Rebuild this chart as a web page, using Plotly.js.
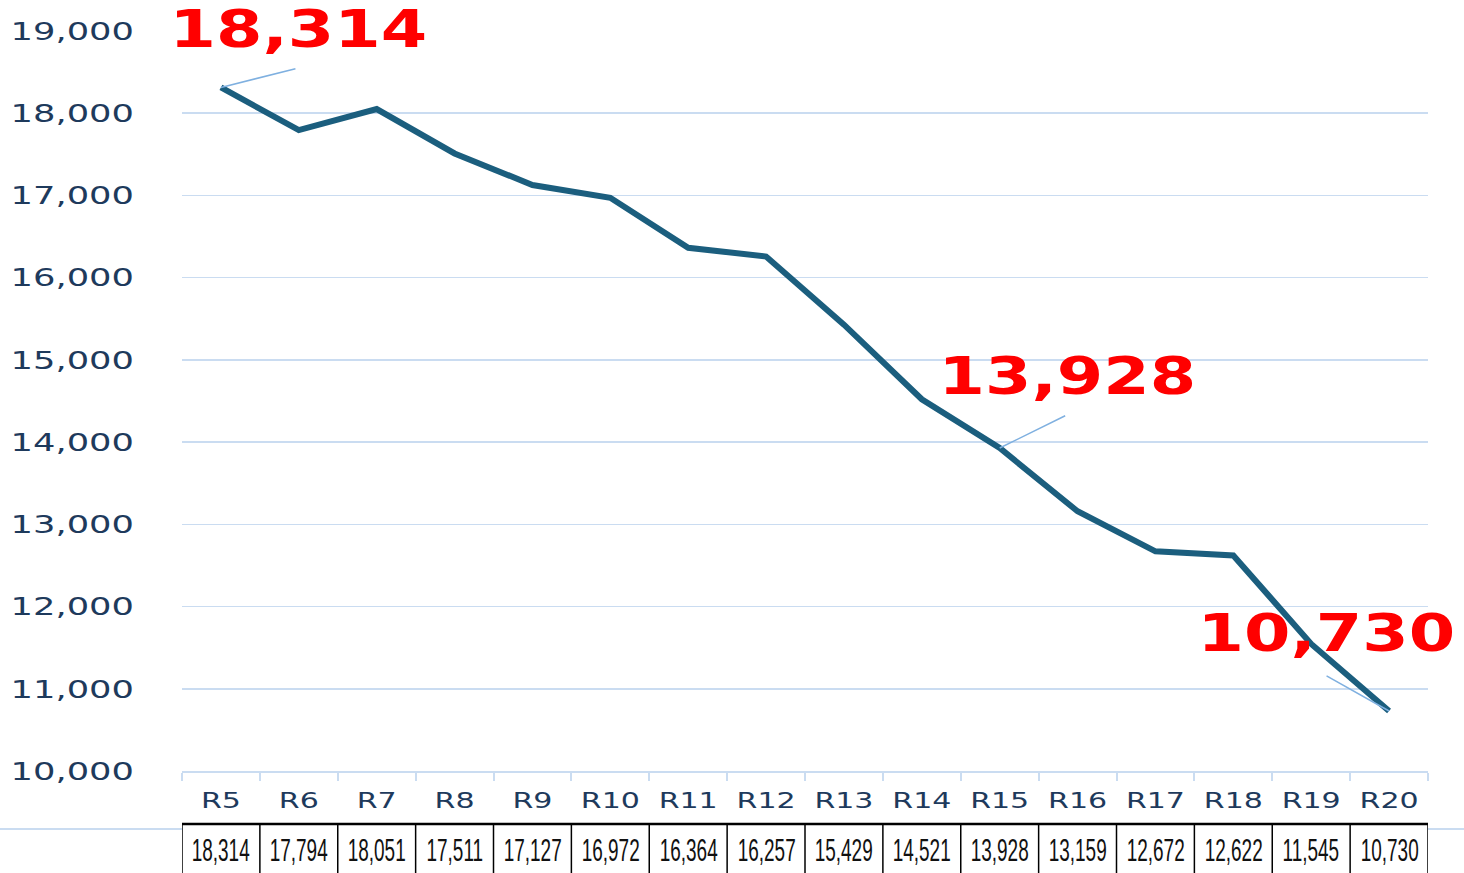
<!DOCTYPE html>
<html>
<head>
<meta charset="utf-8">
<script src="https://cdn.plot.ly/plotly-3.0.1.min.js"></script>
<style>
html,body{margin:0;padding:0;background:#fff;}
#chart{width:1464px;height:873px;}
</style>
</head>
<body>
<div id="chart"></div>
<script>
const categories = ["R5","R6","R7","R8","R9","R10","R11","R12","R13","R14","R15","R16","R17","R18","R19","R20"];
const values = [18314,17794,18051,17511,17127,16972,16364,16257,15429,14521,13928,13159,12672,12622,11545,10730];
const highlightIdx = [0,10,15];
const yTicks = [10000,11000,12000,13000,14000,15000,16000,17000,18000,19000];

const fmt = v => v.toLocaleString('en-US');

const lineColor = '#1b5e7e';
const gridColor = '#cadcf1';
const labelColor = '#1e3a5c';
const leaderColor = '#7fb0e0';

// label placements (pixel offsets from the point)
const labelShift = [[78,58],[68,72],[-63,77]];
const leaderOff = [[76,-19],[67,-33],[-64,-36]];

const annotations = [];
highlightIdx.forEach((idx,k)=>{
  annotations.push({
    x: categories[idx], y: values[idx], xref:'x', yref:'y',
    text: fmt(values[idx]), showarrow:false,
    xshift: labelShift[k][0], yshift: labelShift[k][1],
    font:{family:'DejaVu Sans', size:51, color:'#ff0000', weight:'bold'}
  });
});
highlightIdx.forEach((idx,k)=>{
  annotations.push({
    x: categories[idx], y: values[idx], xref:'x', yref:'y',
    text:' ', showarrow:true, arrowhead:0, arrowwidth:1.5, arrowcolor:leaderColor,
    ax: leaderOff[k][0], ay: leaderOff[k][1], standoff:0,
    font:{size:1}
  });
});
categories.forEach((c,i)=>{
  annotations.push({
    x: c, y: -(849-771)/740, xref:'x', yref:'paper', yanchor:'middle', xanchor:'center',
    text: fmt(values[i]), showarrow:false,
    font:{family:'Liberation Sans', size:24, color:'#111'}
  });
});

const shapes = [];
const yTop = -(824-771)/740, yBot = -(873-771)/740 - 0.02;
for(let i=0;i<=categories.length;i++){
  shapes.push({type:'line', xref:'x', yref:'paper', x0:i-0.5, x1:i-0.5, y0:yTop, y1:yBot,
    line:{color:'#000', width:1.5}});
}
shapes.push({type:'line', xref:'x', yref:'paper', x0:-0.5, x1:categories.length-0.5, y0:yTop, y1:yTop,
  line:{color:'#000', width:2.5}});
const yBlue = -(829-771)/740;
shapes.push({type:'line', xref:'paper', yref:'paper', x0:-182/1246, x1:0, y0:yBlue, y1:yBlue,
  line:{color:gridColor, width:2}});
shapes.push({type:'line', xref:'paper', yref:'paper', x0:1, x1:(1464-182)/1246, y0:yBlue, y1:yBlue,
  line:{color:gridColor, width:2}});

const trace = {
  x: categories, y: values, type:'scatter', mode:'lines',
  line:{color:lineColor, width:6}, hoverinfo:'skip'
};

const layout = {
  width:1464, height:873,
  margin:{l:182, r:36, t:31, b:102},
  paper_bgcolor:'#fff', plot_bgcolor:'#fff',
  showlegend:false,
  xaxis:{
    type:'category', categoryarray:categories, categoryorder:'array',
    showgrid:false, zeroline:false,
    showline:true, linecolor:gridColor, linewidth:2,
    ticks:'outside', tickson:'boundaries', ticklen:8, tickcolor:gridColor, tickwidth:2,
    tickfont:{family:'DejaVu Sans', size:21, color:labelColor},
    ticklabelstandoff:10,
    range:[-0.5, categories.length-0.5]
  },
  yaxis:{
    range:[10000,19000], tickvals:yTicks, ticktext:yTicks.map(fmt),
    showgrid:true, gridcolor:gridColor, gridwidth:1.5, zeroline:false,
    showline:false, ticks:'',
    tickfont:{family:'DejaVu Sans', size:25, color:labelColor},
    ticklabelstandoff:47
  },
  annotations: annotations,
  shapes: shapes
};

function stretch(el, f){
  const w = el.getComputedTextLength();
  el.setAttribute('textLength', (w*f).toFixed(1));
  el.setAttribute('lengthAdjust','spacingAndGlyphs');
}

Plotly.newPlot('chart', [trace], layout, {displayModeBar:false, staticPlot:true}).then(gd=>{
  gd.querySelectorAll('g.ytick text').forEach(el=>stretch(el,1.41));
  gd.querySelectorAll('g.xtick text').forEach(el=>stretch(el,1.43));
  gd.querySelectorAll('g.annotation').forEach(g=>{
    const i = +g.getAttribute('data-index');
    const t = g.querySelector('text.annotation-text');
    if(!t) return;
    if(i < 3) stretch(t,1.31);
    else if(i >= 6){
      stretch(t,0.79);
      // taller, narrow table figures: scale vertically about the text centre
      const bb = t.getBBox();
      const cy = bb.y + bb.height/2;
      const s = 1.32;
      t.setAttribute('transform', `matrix(1,0,0,${s},0,${(-(s-1)*cy).toFixed(2)})`);
    }
    else return;
    const bb = t.getBBox();
    g.querySelectorAll('rect.bg').forEach(r=>{
      r.setAttribute('x', bb.x.toFixed(1));
      r.setAttribute('width', bb.width.toFixed(1));
    });
  });
});
</script>
</body>
</html>
